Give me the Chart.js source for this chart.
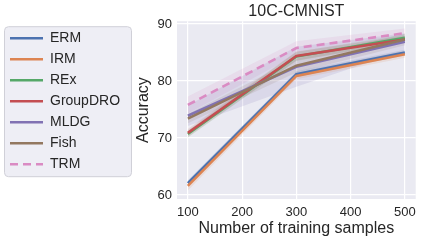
<!DOCTYPE html>
<html>
<head>
<meta charset="utf-8">
<script src="https://cdn.jsdelivr.net/npm/chart.js@4/dist/chart.umd.min.js"></script>
<style>
  html, body { margin: 0; padding: 0; background: #fff; }
</style>
</head>
<body>
<canvas id="myChart" width="422" height="241"></canvas>
<script>
// training set sizes on the x axis
const samples = [100, 300, 500];
const methods = ['ERM', 'IRM', 'REx', 'GroupDRO', 'MLDG', 'Fish', 'TRM'];

// mean accuracy per method
const ermAcc = [62.1, 81.2, 85.0];
const irmAcc = [61.6, 80.9, 84.7];
const rexAcc = [70.7, 84.3, 87.6];
const groupDroAcc = [70.9, 84.4, 87.3];
const mldgAcc = [73.9, 82.5, 86.9];
const fishAcc = [73.4, 82.7, 87.3];
const trmAcc = [75.8, 85.8, 88.4];

// std (shaded band) per method
const ermStd = [0.5, 0.5, 0.5];
const irmStd = [0.8, 0.6, 0.6];
const rexStd = [0.6, 0.8, 0.6];
const groupDroStd = [0.7, 0.8, 0.6];
const mldgStd = [1.8, 3.5, 1.5];
const fishStd = [0.8, 1.2, 1.0];
const trmStd = [1.5, 1.2, 0.8];

const xTicks = [100, 200, 300, 400, 500];
const yTicks = [60, 70, 80, 90];

const means = [ermAcc, irmAcc, rexAcc, groupDroAcc, mldgAcc, fishAcc, trmAcc];
const stds = [ermStd, irmStd, rexStd, groupDroStd, mldgStd, fishStd, trmStd];
const colors = ['76,114,176', '221,132,82', '85,168,104', '196,78,82', '129,114,179', '147,120,96', '218,139,195'];

const toPoints = (ys) => samples.map((x, i) => ({x: x, y: ys[i]}));

let datasets = methods.map((name, i) => ({
    label: name,
    data: toPoints(means[i]),
    borderColor: `rgb(${colors[i]})`,
    backgroundColor: `rgb(${colors[i]})`,
    borderWidth: 2.6,
    borderDash: name === 'TRM' ? [8, 5] : [],
    pointRadius: 0,
    tension: 0,
    fill: false,
    order: methods.length - i
}));

methods.forEach((name, i) => {
    datasets.push({
        label: name + ' band',
        data: toPoints(means[i].map((m, j) => m + stds[i][j])),
        borderWidth: 0,
        pointRadius: 0,
        backgroundColor: `rgba(${colors[i]},0.15)`,
        fill: '+1',
        order: 20
    });
    datasets.push({
        label: name + ' band low',
        data: toPoints(means[i].map((m, j) => m - stds[i][j])),
        borderWidth: 0,
        pointRadius: 0,
        fill: false,
        order: 20
    });
});

const textColor = '#262626';
const font = "'Liberation Sans', Arial, sans-serif";

const plotBg = {
    id: 'plotBg',
    beforeDraw: (chart) => {
        const {ctx, chartArea: a, legend} = chart;
        ctx.save();
        ctx.fillStyle = '#EAEAF2';
        ctx.fillRect(a.left, a.top, a.right - a.left, a.bottom - a.top);

        // legend frame around the items
        const boxes = legend.legendHitBoxes;
        const first = boxes[0], last = boxes[boxes.length - 1];
        const top = first.top - 4.5;
        const bottom = last.top + last.height + 5.5;
        const left = 4.5, right = 131.5;
        ctx.beginPath();
        ctx.roundRect(left, top, right - left, bottom - top, 4);
        ctx.fillStyle = 'rgba(234,234,242,0.8)';
        ctx.fill();
        ctx.strokeStyle = '#d0d0d8';
        ctx.lineWidth = 1;
        ctx.stroke();
        ctx.restore();
    }
};

const ctx = document.getElementById('myChart');

new Chart(ctx, {
    type: 'line',
    data: {datasets: datasets},
    plugins: [plotBg],
    options: {
        responsive: false,
        animation: false,
        devicePixelRatio: 1,
        layout: {padding: {left: 3, right: 3, top: 0, bottom: 0}},
        plugins: {
            title: {
                display: true,
                text: '10C-CMNIST',
                color: textColor,
                font: {family: font, size: 16, weight: 'normal'},
                padding: {top: 2, bottom: 0},
                fullSize: false
            },
            legend: {
                position: 'left',
                align: 'start',
                fullSize: false,
                maxWidth: 127,
                title: {display: true, text: ' ', font: {size: 2.5}, padding: 0},
                labels: {
                    usePointStyle: true,
                    pointStyle: 'line',
                    pointStyleWidth: 33,
                    padding: 7,
                    color: textColor,
                    font: {family: font, size: 14},
                    generateLabels: (chart) => {
                        const items = Chart.defaults.plugins.legend.labels.generateLabels(chart);
                        return items.filter(item => item.datasetIndex < methods.length).map(item => {
                            const ds = chart.data.datasets[item.datasetIndex];
                            item.lineDash = ds.borderDash;
                            item.lineWidth = ds.borderWidth;
                            item.strokeStyle = ds.borderColor;
                            return item;
                        });
                    },
                    sort: (a, b) => a.datasetIndex - b.datasetIndex
                }
            },
            tooltip: {enabled: false}
        },
        scales: {
            x: {
                type: 'linear',
                min: 80,
                max: 520,
                afterBuildTicks: (s) => { s.ticks = xTicks.map(v => ({value: v})); },
                afterFit: (s) => { s.height = 42; },
                grid: {color: '#ffffff', lineWidth: 1.2, drawTicks: false},
                border: {display: false},
                ticks: {color: textColor, font: {family: font, size: 13}, padding: 6},
                title: {
                    display: true,
                    text: 'Number of training samples',
                    color: textColor,
                    font: {family: font, size: 16},
                    padding: {top: 0, bottom: 3}
                }
            },
            y: {
                min: 59.3,
                max: 90.5,
                afterBuildTicks: (s) => { s.ticks = yTicks.map(v => ({value: v})); },
                afterFit: (s) => { s.width = 47; },
                grid: {color: '#ffffff', lineWidth: 1.2, drawTicks: false},
                border: {display: false},
                ticks: {color: textColor, font: {family: font, size: 13}, padding: 5},
                title: {
                    display: true,
                    text: 'Accuracy',
                    color: textColor,
                    font: {family: font, size: 16},
                    padding: {top: 4, bottom: 2}
                }
            }
        }
    }
});
</script>
</body>
</html>
